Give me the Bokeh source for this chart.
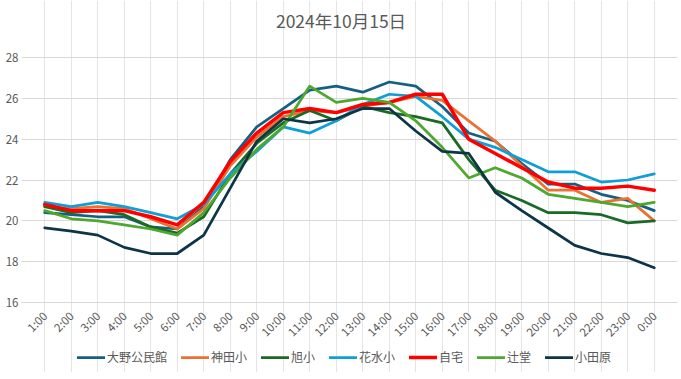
from math import pi
from bokeh.plotting import figure
from bokeh.models import Legend, LegendItem, FactorRange, Range1d, FixedTicker, CategoricalAxis, Label
from bokeh.embed import file_html
from bokeh.resources import INLINE

title_text = "2024年10月15日"

hours = ["1:00", "2:00", "3:00", "4:00", "5:00", "6:00", "7:00", "8:00", "9:00", "10:00",
         "11:00", "12:00", "13:00", "14:00", "15:00", "16:00", "17:00", "18:00", "19:00",
         "20:00", "21:00", "22:00", "23:00", "0:00"]

oono = [20.4, 20.3, 20.2, 20.2, 19.7, 19.6, 20.7, 23.0, 24.6, 25.5, 26.4, 26.6, 26.3, 26.8, 26.6, 25.6,
        24.3, 23.9, 22.8, 21.8, 21.8, 21.3, 21.0, 20.5]
kanda = [20.7, 20.6, 20.7, 20.6, 20.1, 19.6, 20.6, 22.7, 24.1, 25.1, 25.4, 25.3, 25.6, 25.8, 26.1, 25.9,
         24.9, 23.9, 22.7, 21.5, 21.5, 20.9, 21.1, 20.0]
asahi = [20.7, 20.4, 20.5, 20.3, 19.7, 19.4, 20.2, 22.3, 23.8, 24.8, 25.4, 24.9, 25.6, 25.3, 25.1, 24.8,
         23.0, 21.5, 21.0, 20.4, 20.4, 20.3, 19.9, 20.0]
hanamizu = [20.9, 20.7, 20.9, 20.7, 20.4, 20.1, 20.8, 22.3, 23.4, 24.6, 24.3, 24.9, 25.7, 26.2, 26.1, 25.1,
            24.0, 23.6, 23.0, 22.4, 22.4, 21.9, 22.0, 22.3]
jitaku = [20.8, 20.5, 20.5, 20.5, 20.2, 19.8, 20.9, 22.9, 24.3, 25.3, 25.5, 25.3, 25.7, 25.8, 26.2, 26.2,
          24.0, 23.3, 22.6, 21.9, 21.6, 21.6, 21.7, 21.5]
tsujido = [20.5, 20.1, 20.0, 19.8, 19.6, 19.3, 20.4, 22.1, 23.5, 24.6, 26.6, 25.8, 26.0, 25.8, 24.9, 23.6,
           22.1, 22.6, 22.1, 21.3, 21.1, 20.9, 20.7, 20.9]
odawara = [19.65, 19.5, 19.3, 18.7, 18.4, 18.4, 19.3, 21.6, 23.9, 25.0, 24.8, 25.0, 25.5, 25.5, 24.4, 23.4,
           23.3, 21.4, 20.5, 19.65, 18.8, 18.4, 18.2, 17.7]

names = ["大野公民館", "神田小", "旭小", "花水小", "自宅", "辻堂", "小田原"]
series = [oono, kanda, asahi, hanamizu, jitaku, tsujido, odawara]
colors = ["#156082", "#E97132", "#196B24", "#0F9ED5", "#FF0000", "#4EA72E", "#0E3448"]
widths = [2.75, 2.75, 2.75, 2.75, 3.5, 2.75, 2.75]

y_ticks = [16, 18, 20, 22, 24, 26, 28]
y_min, y_max = 16, 28

TXT = "#595959"
FONT = "Noto Sans CJK JP"

# the frame is extended around the value area so that the title,
# the rotated hour labels and the legend can sit inside it
PX_PER_UNIT = 245 / (y_max - y_min)
TOP_PX = 57
BOTTOM_PX = 70
SIDE_PX = 10
CAT_PX = 636 / len(hours)
y_start = y_min - BOTTOM_PX / PX_PER_UNIT
y_end = y_max + TOP_PX / PX_PER_UNIT

p = figure(frame_width=636 + 2 * SIDE_PX, frame_height=245 + TOP_PX + BOTTOM_PX,
           x_range=FactorRange(*hours, range_padding=SIDE_PX / CAT_PX, range_padding_units="absolute"),
           y_range=Range1d(y_start, y_end), output_backend="svg", toolbar_location=None,
           x_axis_location=None,
           min_border_left=31 - SIDE_PX, min_border_right=14 - SIDE_PX,
           min_border_top=0, min_border_bottom=0)
p.outline_line_color = None

items = []
for name, ys, c, w in zip(names, series, colors, widths):
    r = p.line(hours, ys, line_color=c, line_width=w, line_join="round", line_cap="round")
    items.append(LegendItem(label=name, renderers=[r]))

xaxis = CategoricalAxis(fixed_location=y_min)
p.add_layout(xaxis, "below")

p.ygrid.grid_line_color = "#d9d9d9"
p.ygrid.grid_line_width = 1
p.yaxis.ticker = FixedTicker(ticks=y_ticks)

for ax in (xaxis, p.yaxis[0]):
    ax.major_tick_line_color = None
    ax.minor_tick_line_color = None
    ax.major_tick_out = 0
    ax.major_tick_in = 0
    ax.minor_tick_out = 0
    ax.minor_tick_in = 0
    ax.major_label_text_color = TXT
    ax.major_label_text_font = FONT
    ax.major_label_text_font_size = "11.5px"
p.yaxis.axis_line_color = None
xaxis.axis_line_color = "#d9d9d9"
xaxis.major_label_orientation = pi / 4
xaxis.major_label_standoff = 11
p.yaxis.major_label_standoff = 3

title = Label(x=11.68, y=y_max + (TOP_PX - 20) / PX_PER_UNIT, text=title_text,
              text_align="center", text_baseline="middle", text_font=FONT,
              text_font_size="17.5px", text_color=TXT)
p.add_layout(title)

legend = Legend(items=items, orientation="horizontal", location=(46 + SIDE_PX, 7),
                glyph_width=28, glyph_height=12, label_standoff=2, spacing=14,
                padding=0, margin=0, border_line_color=None, background_fill_alpha=0,
                label_text_font=FONT, label_text_font_size="12px", label_text_color=TXT)
p.add_layout(legend, "center")

open("out.html", "w").write(file_html(p, INLINE))
